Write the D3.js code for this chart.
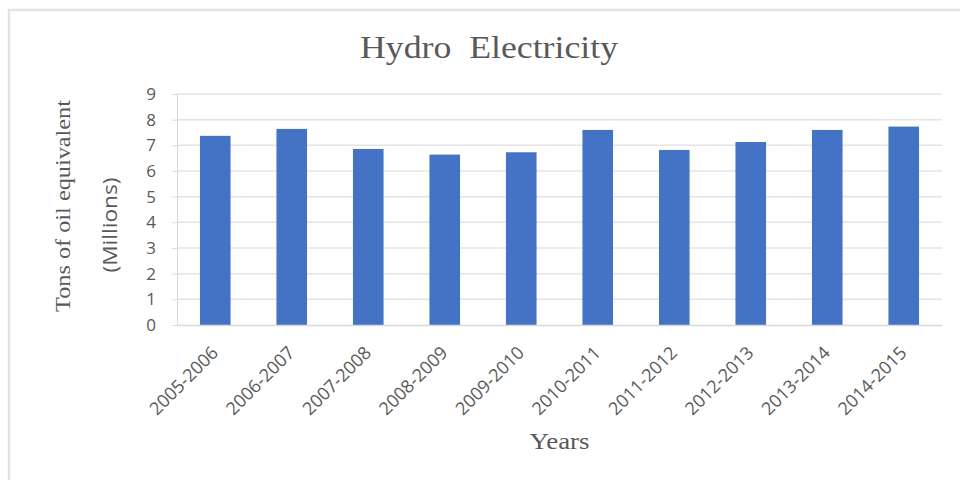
<!DOCTYPE html>
<html>
<head>
<meta charset="utf-8">
<script src="https://cdn.jsdelivr.net/npm/d3@7"></script>
<style>
    body { margin: 0; background: #fff; }
    svg { display: block; }
</style>
</head>
<body>
<div id="chart"></div>
<script>
const years = ['2005-2006', '2006-2007', '2007-2008', '2008-2009', '2009-2010',
               '2010-2011', '2011-2012', '2012-2013', '2013-2014', '2014-2015'];
const hydroValues = [7.37, 7.64, 6.86, 6.64, 6.73, 7.6, 6.82, 7.13, 7.6, 7.73];
const yTicks = [0, 1, 2, 3, 4, 5, 6, 7, 8, 9];

const width = 960, height = 480;
const margin = {top: 94, right: 18, bottom: 155, left: 177};

const serif = '"Liberation Serif", "Times New Roman", serif';
const sans = '"Open Sans", "Liberation Sans", sans-serif';
const textColor = '#595959';

const svg = d3.select('#chart').append('svg')
    .attr('width', width)
    .attr('height', height);

// frame of the chart area
svg.append('path')
    .attr('d', `M9,${height} V10 H${width}`)
    .attr('fill', 'none')
    .attr('stroke', '#e3e3e3')
    .attr('stroke-width', 2.5);

const x = d3.scaleBand()
    .domain(years)
    .range([margin.left, width - margin.right])
    .paddingInner(0.6)
    .paddingOuter(0.3);

const y = d3.scaleLinear()
    .domain([0, 9])
    .range([height - margin.bottom, margin.top]);

// gridlines
svg.append('g')
    .selectAll('line')
    .data(yTicks.slice(1))
    .enter()
    .append('line')
    .attr('x1', margin.left)
    .attr('x2', width - margin.right)
    .attr('y1', d => y(d))
    .attr('y2', d => y(d))
    .attr('stroke', '#e4e4e4')
    .attr('stroke-width', 1.5);

// y axis
const yAxis = svg.append('g')
    .attr('transform', `translate(${margin.left},0)`)
    .call(d3.axisLeft(y).tickValues(yTicks).tickSize(5).tickPadding(16));
yAxis.select('.domain').attr('stroke', '#d9d9d9');
yAxis.selectAll('.tick line').attr('stroke', '#d9d9d9');
yAxis.selectAll('.tick text')
    .attr('fill', textColor)
    .style('font-family', sans)
    .style('font-size', '17px');

// bars
svg.append('g')
    .selectAll('rect')
    .data(hydroValues)
    .enter()
    .append('rect')
    .attr('x', (d, i) => x(years[i]))
    .attr('y', d => y(d))
    .attr('width', x.bandwidth())
    .attr('height', d => y(0) - y(d))
    .attr('fill', '#4472c4');

// x axis, labels turned 45 degrees
const xAxis = svg.append('g')
    .attr('transform', `translate(0,${y(0)})`)
    .call(d3.axisBottom(x).tickSize(0).tickPadding(0));
xAxis.select('.domain').attr('stroke', '#d9d9d9').attr('stroke-width', 1.5);
xAxis.selectAll('.tick text')
    .attr('fill', textColor)
    .style('font-family', sans)
    .style('font-size', '18px')
    .attr('text-anchor', 'end')
    .attr('y', 0)
    .attr('dy', 0)
    .attr('transform', 'translate(4,29) rotate(-45)');

// title (double space kept as in the original)
svg.append('text')
    .attr('x', 489)
    .attr('y', 58)
    .attr('text-anchor', 'middle')
    .attr('fill', textColor)
    .attr('textLength', 258)
    .attr('lengthAdjust', 'spacingAndGlyphs')
    .style('white-space', 'pre')
    .style('font-family', serif)
    .style('font-size', '31px')
    .text('Hydro  Electricity');

// axis titles
svg.append('text')
    .attr('transform', 'translate(70,206) rotate(-90)')
    .attr('text-anchor', 'middle')
    .attr('fill', textColor)
    .attr('textLength', 212)
    .attr('lengthAdjust', 'spacingAndGlyphs')
    .style('font-family', serif)
    .style('font-size', '22px')
    .text('Tons of oil equivalent');

svg.append('text')
    .attr('transform', 'translate(117,225) rotate(-90)')
    .attr('text-anchor', 'middle')
    .attr('fill', textColor)
    .attr('textLength', 95)
    .attr('lengthAdjust', 'spacingAndGlyphs')
    .style('font-family', sans)
    .style('font-size', '20px')
    .text('(Millions)');

svg.append('text')
    .attr('x', (margin.left + width - margin.right) / 2)
    .attr('y', 449)
    .attr('text-anchor', 'middle')
    .attr('fill', textColor)
    .attr('textLength', 60)
    .attr('lengthAdjust', 'spacingAndGlyphs')
    .style('font-family', serif)
    .style('font-size', '23px')
    .text('Years');
</script>
</body>
</html>
